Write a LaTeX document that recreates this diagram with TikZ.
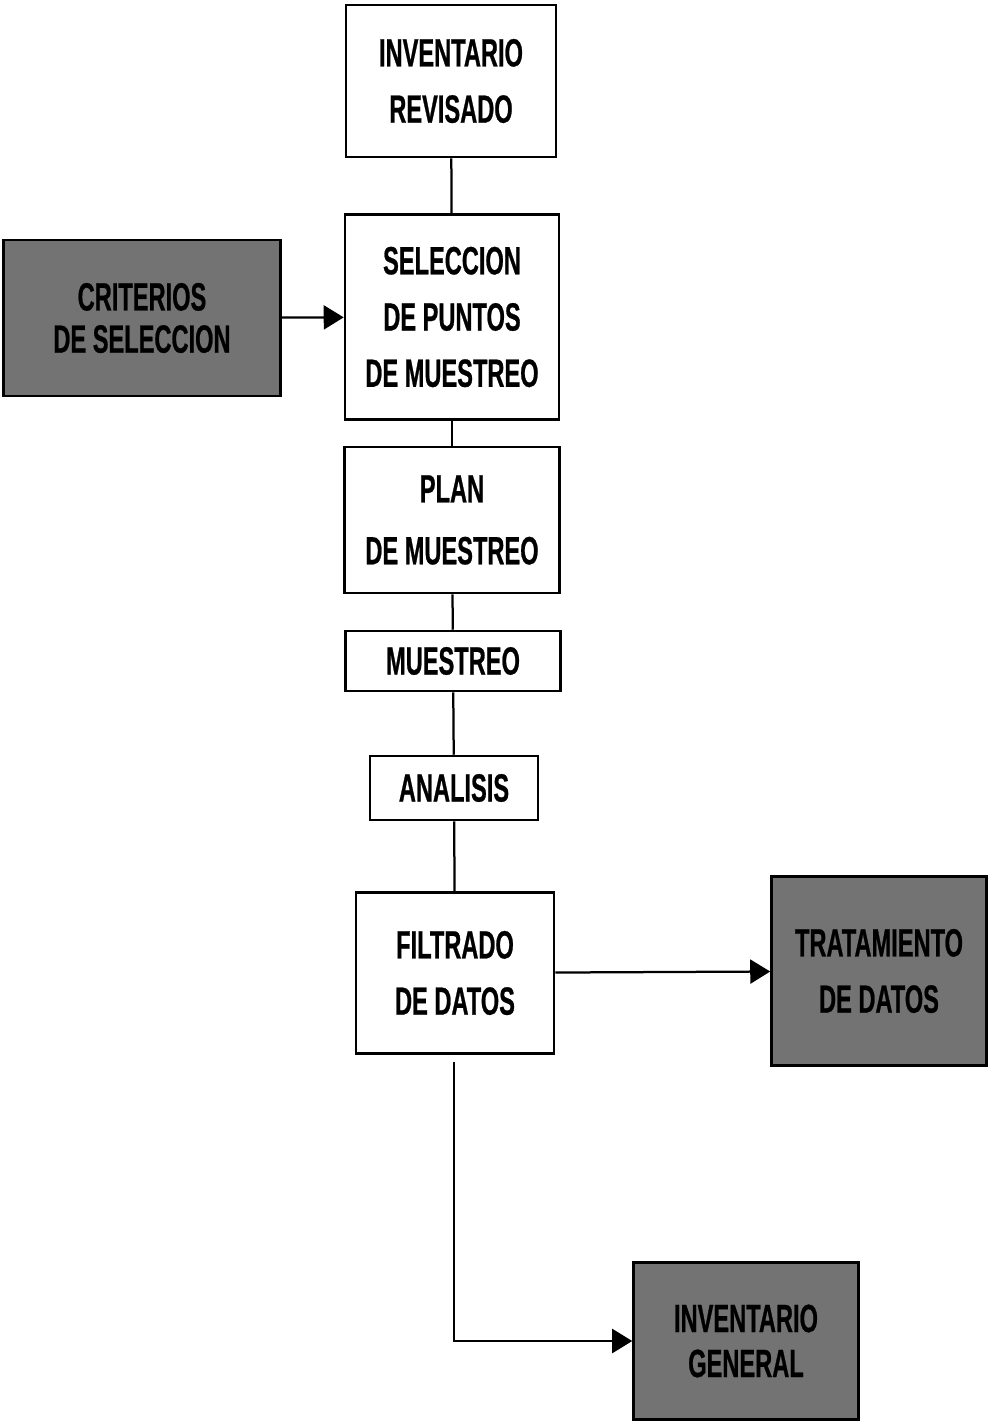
\documentclass[tikz,border=0pt]{standalone}
\usepackage{fontspec}
\usepackage{tikz}
\usetikzlibrary{arrows.meta}
\newfontfamily\cajafont[FakeStretch=0.6,FakeBold=0.6]{Liberation Sans}

\begin{document}
\begin{tikzpicture}[x=0.025cm,y=-0.025cm,
   caja/.style n args={2}{draw,line width=1.8pt,fill=white,rectangle,align=center,
      minimum width=#1*0.025cm,minimum height=#2*0.025cm,inner sep=0pt,
      font=\cajafont\bfseries\fontsize{28}{40}\selectfont},
   sombra/.style={fill=black!55},
   linea/.style={line width=1.6pt},
   flecha/.style={line width=1.6pt,-{Triangle[length=0.5cm,width=0.6cm]}}]
\useasboundingbox (0,0) rectangle (989,1423);
% columna central
\node[caja={210}{152}] (revisado) at (451,81) {INVENTARIO\\REVISADO};
\node[caja={214}{205}] (seleccion) at (452,317) {SELECCION\\DE PUNTOS\\DE MUESTREO};
\node[caja={215}{146}] (plan) at (452,520) {PLAN\\[4pt]DE MUESTREO};
\node[caja={215}{60}] (muestreo) at (453,661) {MUESTREO};
\node[caja={168}{64}] (analisis) at (454,788) {ANALISIS};
\node[caja={198}{161}] (filtrado) at (455,973) {FILTRADO\\DE DATOS};
% cajas sombreadas
\node[caja={277}{156},sombra,font=\cajafont\bfseries\fontsize{28}{30}\selectfont] (criterios) at (142,318) {CRITERIOS\\DE SELECCION};
\node[caja={215}{189},sombra] (tratamiento) at (879,971) {TRATAMIENTO\\DE DATOS};
\node[caja={225}{157},sombra,font=\cajafont\bfseries\fontsize{28}{32}\selectfont] (general) at (746,1341) {INVENTARIO\\GENERAL};
\coordinate (salida) at (454,1062);
% conexiones
\draw[linea] (revisado) -- (seleccion);
\draw[linea] (seleccion) -- (plan);
\draw[linea] (plan) -- (muestreo);
\draw[linea] (muestreo) -- (analisis);
\draw[linea] (analisis) -- (filtrado);
\draw[flecha] (criterios) -- (seleccion);
\draw[flecha] (filtrado) -- (tratamiento);
\draw[flecha] (salida) |- (general.west);
\end{tikzpicture}
\end{document}
